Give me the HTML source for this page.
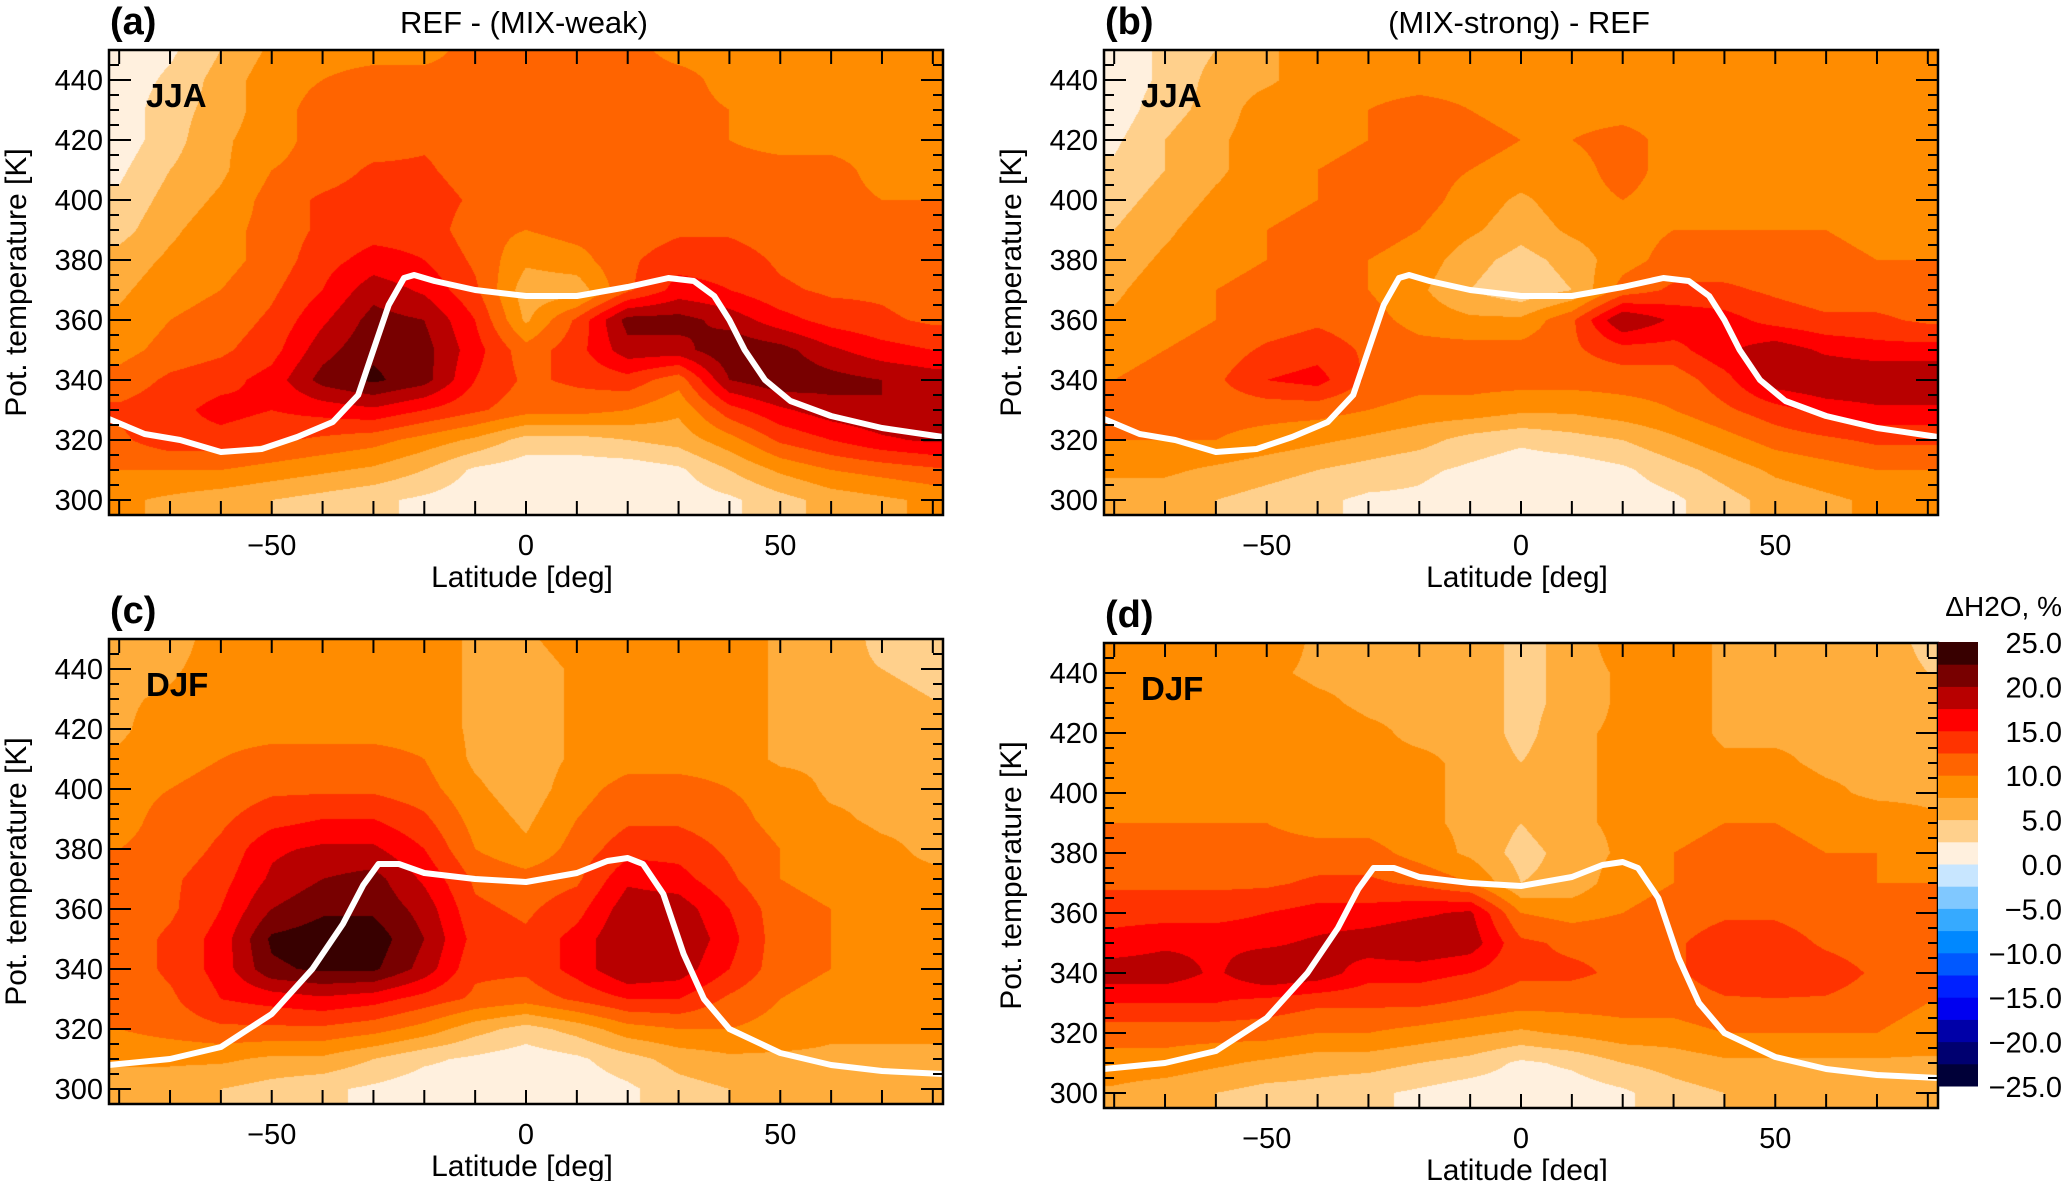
<!DOCTYPE html>
<html><head><meta charset="utf-8">
<style>
body{margin:0;background:#fff;width:2066px;height:1181px;overflow:hidden;position:relative;font-family:"Liberation Sans","DejaVu Sans",sans-serif;}
canvas{position:absolute;}
svg{position:absolute;left:0;top:0;}
</style></head>
<body>
<canvas id="cA"></canvas>
<canvas id="cB"></canvas>
<canvas id="cC"></canvas>
<canvas id="cD"></canvas>
<svg id="ov" width="2066" height="1181"></svg>
<script>
const lats=[-80,-70,-60,-50,-40,-30,-20,-10,0,10,20,30,40,50,60,70,80];
const thetas=[300,310,320,330,340,350,360,370,380,390,400,410,420,430,440,450];
const fieldA=[
[8,7,6,5,4,3,2,1,1,1,1,1,2,4,6,7,8],
[10,10,10,9,8,7,5,2,1,1,1,2,5,8,10,11,12],
[12,14,14,13,12,11,9,7,4,4,5,6,9,13,15,17,18],
[13,14,16,15,16,17,15,13,11,11,10,8,14,17,19,20,20],
[11,13,14,16,21,23,21,15,12,13,14,11,20,22,21,20,19],
[9,11,12,14,19,22,21,16,11,14,19,19,22,21,18,16,15],
[8,10,11,13,17,21,20,15,7,13,21,21,19,16,14,13,12],
[7,9,10,12,15,19,17,13,6,6,12,16,15,13,12,12,11],
[6,8,9,11,14,16,15,12,8,9,12,14,14,12,11,11,11],
[4,7,9,11,13,14,14,11,10,11,11,12,12,11,11,11,11],
[3,6,8,11,13,14,14,12,11,11,11,11,11,11,11,10,10],
[2,5,7,10,11,13,13,11,11,11,11,11,11,11,11,9,9],
[1,4,7,9,11,11,12,11,11,11,11,11,10,9,9,9,9],
[1,4,6,9,11,11,11,11,11,11,11,11,10,9,9,9,9],
[1,3,6,9,10,11,11,11,11,11,11,11,9,9,9,9,9],
[1,2,5,8,9,9,9,11,11,11,11,9,9,9,9,9,9]];
const fieldB=[
[6,6,5,4,3,2,2,1,1,1,1,2,4,6,7,8,8],
[8,8,7,6,5,4,3,2,1,1,2,4,6,8,9,10,10],
[10,10,10,9,8,7,6,4,3,4,5,7,9,11,12,13,13],
[11,11,11,11,11,10,9,9,8,8,9,10,12,14,16,17,17],
[10,11,12,15,16,12,11,11,11,11,11,11,14,19,20,20,20],
[9,10,11,13,14,12,11,11,11,12,14,14,17,19,17,16,16],
[8,9,10,11,12,11,9,8,8,12,20,17,16,14,13,13,12],
[7,9,10,11,11,10,8,5,3,5,11,13,13,12,11,11,11],
[6,8,9,10,11,10,9,6,4,6,9,11,11,11,11,10,10],
[5,7,9,10,11,11,10,8,6,8,9,10,10,10,10,9,9],
[4,6,8,9,10,11,11,9,7,9,10,9,9,9,9,9,9],
[3,5,7,9,10,11,11,10,9,9,11,9,9,9,9,9,9],
[2,5,7,9,9,10,11,11,10,10,11,9,9,9,9,9,9],
[1,4,6,9,9,10,11,10,9,9,9,9,9,9,9,9,9],
[1,3,6,7,9,9,9,9,9,9,9,9,9,9,9,9,9],
[1,3,5,7,9,9,9,9,9,9,9,9,9,9,9,9,9]];
const fieldC=[
[6,6,5,4,3,2,1,1,1,1,2,4,5,6,6,6,6],
[8,8,8,7,7,5,3,2,1,2,4,6,7,7,7,7,7],
[10,11,12,12,12,11,9,6,4,6,9,10,10,9,8,8,8],
[11,12,15,16,17,16,14,12,11,13,15,15,12,10,9,9,9],
[11,13,16,22,23,23,19,13,13,16,20,19,15,11,10,9,9],
[11,13,16,23,24,24,20,14,13,16,20,20,16,11,10,9,9],
[11,12,15,20,22,22,19,13,12,14,19,19,15,11,10,9,8],
[10,12,14,18,20,21,17,12,11,12,17,16,13,10,9,8,8],
[10,11,13,17,18,18,15,10,8,11,14,14,12,10,9,8,7],
[9,11,12,14,15,15,13,9,7,10,12,12,11,9,8,7,7],
[9,10,11,12,12,12,11,8,6,9,11,11,10,9,7,7,6],
[8,9,10,11,11,11,10,7,6,8,9,9,9,7,7,6,6],
[7,9,9,9,9,9,9,7,6,8,9,9,9,7,7,6,5],
[7,8,9,9,9,9,9,7,6,8,9,9,9,7,6,6,5],
[6,7,9,9,9,9,9,7,6,8,9,9,9,7,6,5,4],
[7,6,9,9,9,9,9,7,7,9,9,9,9,7,7,4,3]];
const fieldD=[
[7,6,5,4,4,3,2,1,1,1,2,4,5,5,5,5,5],
[9,9,8,7,6,6,5,4,2,3,5,6,7,7,7,7,7],
[11,11,11,11,10,10,9,8,7,8,9,9,10,10,10,10,9],
[15,15,15,14,13,13,13,12,11,11,11,11,12,12,12,11,10],
[19,19,17,20,19,16,16,15,13,13,12,12,14,15,14,12,11],
[16,17,17,17,18,19,20,19,13,12,12,12,14,14,12,11,11],
[14,14,14,15,16,16,17,18,10,9,10,11,12,12,11,11,10],
[12,12,12,12,13,13,12,10,5,6,9,10,11,11,11,10,10],
[11,11,11,11,11,11,9,7,4,6,8,10,11,11,10,10,9],
[10,10,10,10,9,9,8,7,5,7,8,9,10,10,9,9,8],
[9,9,9,9,9,9,8,7,6,7,8,9,9,9,8,7,7],
[9,9,9,9,9,8,8,7,5,7,8,9,8,8,7,7,7],
[9,9,9,9,9,8,7,7,4,7,8,9,7,7,7,7,6],
[9,9,9,9,8,7,7,7,4,6,8,9,7,7,7,7,6],
[9,9,9,8,7,7,7,7,4,6,8,9,7,7,7,7,5],
[9,9,9,9,7,7,7,7,4,6,9,9,7,7,7,7,4]];
const tropJJAlat=[-82,-75,-68,-60,-52,-45,-38,-33,-30,-27,-24,-22,-18,-10,0,10,20,28,33,37,40,43,47,52,60,70,82];
const tropJJAth=[327,322,320,316,317,321,326,335,350,365,374,375,373,370,368,368,371,374,373,368,360,350,340,333,328,324,321];
const tropDJFlat=[-82,-70,-60,-50,-42,-36,-32,-29,-25,-20,-10,0,10,16,20,23,27,31,35,40,50,60,70,82];
const tropDJFth=[308,310,314,325,340,355,368,375,375,372,370,369,372,376,377,375,365,345,330,320,312,308,306,305];
const cbLevels=[-25,-22.5,-20,-17.5,-15,-12.5,-10,-7.5,-5,-2.5,0,2.5,5,7.5,10,12.5,15,17.5,20,22.5];
const cbColors=['#000038','#000070','#0000a8','#0000f0','#0020ff','#0058ff','#0088ff','#36aaff','#80c8ff','#c8e6ff','#fff0de','#ffd08c','#ffad3c','#ff8c00','#ff6400','#ff3300','#ff0000','#b80000','#780000','#380000'];
const cbTicks=[25,20,15,10,5,0,-5,-10,-15,-20,-25];
const xTicks=[-50,0,50];
const yTicks=[300,320,340,360,380,400,420,440];

const W=834,H=465,LAT0=-82,LAT1=82,TH0=295,TH1=450;
const panels=[
 {id:'cA',x:109,y:50,f:fieldA,tl:tropJJAlat,tt:tropJJAth,lab:'(a)',title:'REF - (MIX-weak)',season:'JJA',key:'a'},
 {id:'cB',x:1104,y:50,f:fieldB,tl:tropJJAlat,tt:tropJJAth,lab:'(b)',title:'(MIX-strong) - REF',season:'JJA',key:'b'},
 {id:'cC',x:109,y:639,f:fieldC,tl:tropDJFlat,tt:tropDJFth,lab:'(c)',title:'',season:'DJF',key:'c'},
 {id:'cD',x:1104,y:643,f:fieldD,tl:tropDJFlat,tt:tropDJFth,lab:'(d)',title:'',season:'DJF',key:'d'}];
function hex(c){return [parseInt(c.substr(1,2),16),parseInt(c.substr(3,2),16),parseInt(c.substr(5,2),16)];}
const rgb=cbColors.map(hex);
function colorIdx(v){let i=Math.floor((v+25)/2.5);return Math.max(0,Math.min(19,i));}
function sample(f,lat,th){
 lat=Math.max(-80,Math.min(80,lat));th=Math.max(300,Math.min(450,th));
 let fi=(lat+80)/10,fj=(th-300)/10;
 let i=Math.min(15,Math.floor(fi)),j=Math.min(14,Math.floor(fj));
 let u=fi-i,w=fj-j;
 return f[j][i]*(1-u)*(1-w)+f[j][i+1]*u*(1-w)+f[j+1][i]*(1-u)*w+f[j+1][i+1]*u*w;
}
const NS='http://www.w3.org/2000/svg';
const ov=document.getElementById('ov');
function el(t,a,parent){const e=document.createElementNS(NS,t);for(const k in a)e.setAttribute(k,a[k]);(parent||ov).appendChild(e);return e;}
panels.forEach(p=>{
 const c=document.getElementById(p.id);c.width=W;c.height=H;c.style.left=p.x+'px';c.style.top=p.y+'px';
 const ctx=c.getContext('2d');const img=ctx.createImageData(W,H);
 for(let py=0;py<H;py++){const th=TH1-(py+0.5)/H*(TH1-TH0);
  for(let px=0;px<W;px++){const lat=LAT0+(px+0.5)/W*(LAT1-LAT0);
   const col=rgb[colorIdx(sample(p.f,lat,th))];const k=(py*W+px)*4;
   img.data[k]=col[0];img.data[k+1]=col[1];img.data[k+2]=col[2];img.data[k+3]=255;}}
 ctx.putImageData(img,0,0);
 const sx=lat=>p.x+(lat-LAT0)/(LAT1-LAT0)*W;
 const sy=th=>p.y+(TH1-th)/(TH1-TH0)*H;
 const g=el('g',{});
 
 
 let d=p.tl.map((l,i)=>(i?'L':'M')+sx(l).toFixed(1)+','+sy(p.tt[i]).toFixed(1)).join('');
 const ln=el('path',{d:d,fill:'none',stroke:'#fff','stroke-width':6,'stroke-linejoin':'round'},g);
 
 
 for(let l=-80;l<=80;l+=10){const x=sx(l);
  el('line',{x1:x,y1:p.y+H,x2:x,y2:p.y+H-14,stroke:'#000','stroke-width':2},g);
  el('line',{x1:x,y1:p.y,x2:x,y2:p.y+14,stroke:'#000','stroke-width':2},g);}
 for(let t=300;t<=450;t+=5){const y=sy(t);const L=(t%20===0)?22:10;
  el('line',{x1:p.x,y1:y,x2:p.x+L,y2:y,stroke:'#000','stroke-width':2},g);
  el('line',{x1:p.x+W,y1:y,x2:p.x+W-L,y2:y,stroke:'#000','stroke-width':2},g);}
 const fr=el('rect',{x:p.x,y:p.y,width:W,height:H,fill:'none',stroke:'#000','stroke-width':2.5},g);
 
 
 xTicks.forEach(v=>{const t=el('text',{x:sx(v),y:p.y+H+40,'text-anchor':'middle','font-size':29},g);t.textContent=v===0?'0':(v<0?'\u2212'+(-v):v);
  
  });
 yTicks.forEach(v=>{const t=el('text',{x:p.x-6,y:sy(v)+10,'text-anchor':'end','font-size':29},g);t.textContent=v;
  
  });
 const xl=el('text',{x:p.x+W/2-4,y:p.y+H+72,'text-anchor':'middle','font-size':30},g);xl.textContent='Latitude [deg]';
 
 
 const yl=el('text',{x:0,y:0,'text-anchor':'middle','font-size':30,transform:'translate('+(p.x-83)+','+(p.y+H/2)+') rotate(-90)'},g);yl.textContent='Pot. temperature [K]';
 
 
 const pl=el('text',{x:p.x+1,y:p.y-16,'font-size':38,'font-weight':'bold'},g);pl.textContent=p.lab;
 
 
 if(p.title){const tt=el('text',{x:p.x+W/2-2,y:p.y-17,'text-anchor':'middle','font-size':31},g);tt.textContent=p.title;
  
  }
 const se=el('text',{x:p.x+37,y:p.y+57,'font-size':33,'font-weight':'bold'},g);se.textContent=p.season;
 
 
});
const cb=el('g',{});


const CBX=1938,CBY=642,CBW=40,CBH=444;
const cy=v=>CBY+(25-v)/50*CBH;
cbLevels.forEach((lv,i)=>{const r=el('rect',{x:CBX,y:cy(lv+2.5),width:CBW,height:CBH/20+0.5,fill:cbColors[i]},cb);
 
 });
cbTicks.forEach(v=>{const t=el('text',{x:2062,y:cy(v)+11,'text-anchor':'end','font-size':29},cb);
 t.textContent=(v<0?'\u2212':'')+Math.abs(v).toFixed(1);
 
 });
const cbt=el('text',{x:2062,y:616,'text-anchor':'end','font-size':28},cb);cbt.textContent='\u0394H2O, %';


</script>
</body></html>
